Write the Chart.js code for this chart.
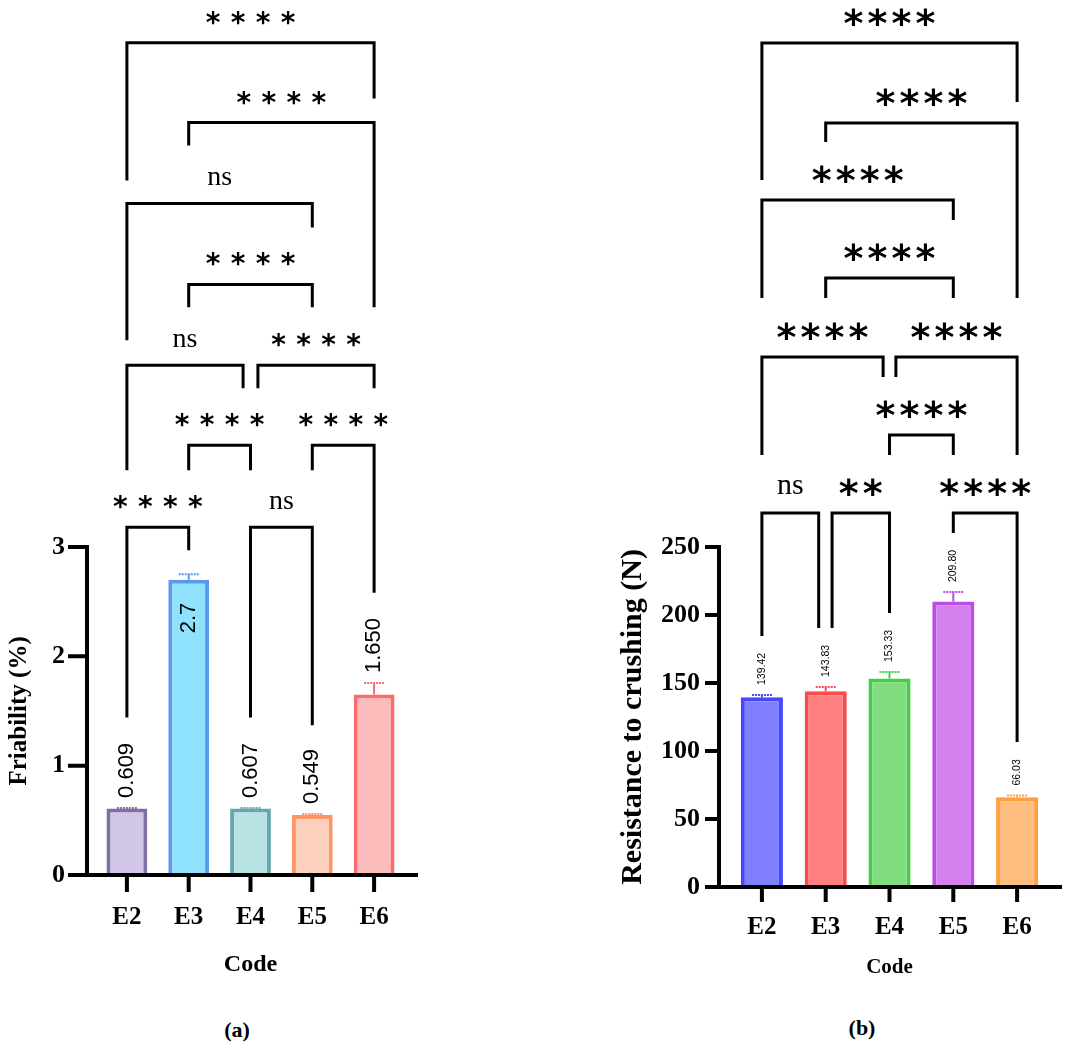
<!DOCTYPE html>
<html>
<head>
<meta charset="utf-8">
<script src="https://cdn.jsdelivr.net/npm/chart.js@4.4.1/dist/chart.umd.min.js"></script>
<style>
  body { margin: 0; background: #fff; width: 1068px; height: 1044px; position: relative; overflow: hidden; }
  canvas { position: absolute; top: 0; }
  #chartA { left: 0; }
  #chartB { left: 600px; }
  .cap { position: absolute; font: bold 22px "Liberation Serif", serif; transform: translate(-50%, -50%); }
</style>
</head>
<body>
<canvas id="chartA" width="440" height="1000"></canvas>
<canvas id="chartB" width="468" height="1000"></canvas>
<div class="cap" style="left:237px;top:1030px">(a)</div>
<div class="cap" style="left:862px;top:1028px">(b)</div>
<script>
const codes = ["E2", "E3", "E4", "E5", "E6"];

// (a) friability
const friability = [0.609, 2.7, 0.607, 0.549, 1.650];
const friabilitySd = [0.004, 0.05, 0.005, 0.008, 0.105];
const friabilityText = ["0.609", "2.7", "0.607", "0.549", "1.650"];
const friabilityTicks = [0, 1, 2, 3];
// comparisons: [from, to, bracket level, left leg end, right leg end, result]
const friabilityPairs = [
    [0, 4, 7.61, 6.35, 7.10, "****"],
    [1, 4, 6.88, 6.67, 5.19, "****"],
    [0, 3, 6.14, 4.89, 5.92, "ns"],
    [1, 3, 5.40, 5.19, 5.19, "****"],
    [0, 1.88, 4.66, 3.70, 4.45, "ns"],
    [2.12, 4, 4.66, 4.45, 4.45, "****"],
    [1, 2, 3.93, 3.70, 3.70, "****"],
    [3, 4, 3.93, 3.70, 2.58, "****"],
    [0, 1, 3.18, 1.44, 2.97, "****"],
    [2, 3, 3.18, 1.44, 1.37, "ns"],
];

// (b) resistance to crushing
const crushing = [139.42, 143.83, 153.33, 209.80, 66.03];
const crushingSd = [1.7, 3.2, 4.7, 7.0, 1.2];
const crushingText = ["139.42", "143.83", "153.33", "209.80", "66.03"];
const crushingTicks = [0, 50, 100, 150, 200, 250];
const crushingPairs = [
    [0, 4, 620.4, 519.7, 577.0, "****"],
    [1, 4, 561.6, 547.6, 433.0, "****"],
    [0, 3, 505.0, 433.0, 490.3, "****"],
    [1, 3, 447.7, 433.0, 433.0, "****"],
    [0, 1.9, 389.6, 317.6, 374.9, "****"],
    [2.1, 4, 389.6, 374.9, 317.6, "****"],
    [2, 3, 332.3, 317.6, 317.6, "****"],
    [0, 0.89, 274.9, 184.5, 190.4, "ns"],
    [1.1, 2, 274.9, 190.4, 201.4, "**"],
    [3, 4, 274.9, 260.2, 106.6, "****"],
];

const serif = '"Liberation Serif", "Times New Roman", serif';
const sans = '"Liberation Sans", Arial, sans-serif';

function centredText(ctx, text, x, y) {
    const m = ctx.measureText(text);
    ctx.textAlign = "center";
    ctx.textBaseline = "alphabetic";
    ctx.fillText(text, x, y + (m.actualBoundingBoxAscent - m.actualBoundingBoxDescent) / 2);
}

function drawMark(ctx, mark, x, y, p) {
    ctx.fillStyle = "#000";
    if (mark.startsWith("*")) {
        ctx.font = p.starFont;
        const n = mark.length;
        for (let i = 0; i < n; i++) {
            centredText(ctx, "*", x + (i - (n - 1) / 2) * p.starGap, y);
        }
    } else {
        ctx.font = p.nsFont;
        centredText(ctx, mark, x, y);
    }
}

function overlay(p) {
    return {
        id: "overlay",
        afterDatasetsDraw(chart) {
            const ctx = chart.ctx, xs = chart.scales.x, ys = chart.scales.y, area = chart.chartArea;
            const y0 = ys.getPixelForValue(0);
            const yTop = ys.getPixelForValue(p.ticks[p.ticks.length - 1]);
            const axisX = area.left - p.axisGap;
            ctx.save();

            // axes
            ctx.strokeStyle = "#000";
            ctx.lineWidth = 4;
            ctx.beginPath();
            ctx.moveTo(axisX, y0 + 2);
            ctx.lineTo(axisX, yTop - 2);
            ctx.moveTo(area.left - p.xOver[0], y0);
            ctx.lineTo(area.right + p.xOver[1], y0);
            p.ticks.forEach(v => {
                const y = ys.getPixelForValue(v);
                ctx.moveTo(axisX - p.yTickLen, y);
                ctx.lineTo(axisX, y);
            });
            codes.forEach((c, i) => {
                const x = xs.getPixelForValue(i);
                ctx.moveTo(x, y0);
                ctx.lineTo(x, y0 + p.xTickLen);
            });
            ctx.stroke();

            // error bars and value labels
            p.values.forEach((v, i) => {
                const x = xs.getPixelForValue(i);
                const yb = ys.getPixelForValue(v);
                const ye = ys.getPixelForValue(v + p.sd[i]);
                ctx.strokeStyle = p.border[i];
                ctx.lineWidth = 2;
                ctx.beginPath();
                ctx.moveTo(x, yb);
                ctx.lineTo(x, ye);
                ctx.stroke();
                ctx.setLineDash([2, 1]);
                ctx.beginPath();
                ctx.moveTo(x - p.capHalf, ye);
                ctx.lineTo(x + p.capHalf, ye);
                ctx.stroke();
                ctx.setLineDash([]);

                ctx.font = p.labelFont;
                ctx.fillStyle = "#000";
                const w = ctx.measureText(p.text[i]).width;
                let start = ye - p.labelGap;
                if (start - w < yTop) start = yb + p.insideGap + w;
                ctx.save();
                ctx.translate(x, start);
                ctx.rotate(-Math.PI / 2);
                ctx.textAlign = "left";
                ctx.textBaseline = "middle";
                ctx.fillText(p.text[i], 0, 0);
                ctx.restore();
            });

            // significance brackets
            ctx.strokeStyle = "#000";
            ctx.lineWidth = 3;
            ctx.lineJoin = "miter";
            p.pairs.forEach(([a, b, lvl, la, lb, mark]) => {
                const xa = xs.getPixelForValue(a), xb = xs.getPixelForValue(b);
                const y = ys.getPixelForValue(lvl);
                ctx.beginPath();
                ctx.moveTo(xa, ys.getPixelForValue(la));
                ctx.lineTo(xa, y);
                ctx.lineTo(xb, y);
                ctx.lineTo(xb, ys.getPixelForValue(lb));
                ctx.stroke();
                drawMark(ctx, mark, (xa + xb) / 2, y - p.markGap, p);
            });

            // y title, centred on the drawn axis
            ctx.save();
            ctx.translate(p.titleX, (y0 + yTop) / 2);
            ctx.rotate(-Math.PI / 2);
            ctx.font = p.titleFont;
            ctx.fillStyle = "#000";
            ctx.textAlign = "center";
            ctx.textBaseline = "middle";
            ctx.fillText(p.title, 0, 0);
            ctx.restore();

            ctx.restore();
        }
    };
}

function makeChart(id, p) {
    return new Chart(document.getElementById(id), {
        type: "bar",
        data: {
            labels: codes,
            datasets: [{
                data: p.values,
                backgroundColor: p.fill,
                borderColor: p.border,
                borderWidth: 4,
                barPercentage: 0.66,
                categoryPercentage: 1,
            }],
        },
        options: {
            responsive: false,
            animation: false,
            layout: { padding: { left: 0, right: p.rightPad, top: 0, bottom: 0 } },
            plugins: { legend: { display: false }, tooltip: { enabled: false } },
            scales: {
                x: {
                    offset: true,
                    grid: { display: false, drawTicks: false },
                    border: { display: false },
                    ticks: { color: "#000", padding: p.xPad, font: { family: serif, size: 25, weight: "bold" } },
                    title: {
                        display: true, text: "Code", color: "#000",
                        font: { family: serif, size: p.codeSize, weight: "bold" },
                        padding: { top: 0, bottom: p.codePad },
                    },
                    afterFit: s => { s.height = p.xHeight; },
                },
                y: {
                    min: 0,
                    max: p.max,
                    grid: { display: false, drawTicks: false },
                    border: { display: false },
                    ticks: { color: "#000", padding: p.yPad, font: { family: serif, size: 26, weight: "bold" } },
                    afterBuildTicks: s => { s.ticks = p.ticks.map(v => ({ value: v })); },
                    afterFit: s => {
                        s.width = p.yWidth;
                        s.paddingTop = 0;
                        s.paddingBottom = 0;
                    },
                },
            },
        },
        plugins: [overlay(p)],
    });
}

makeChart("chartA", {
    values: friability, sd: friabilitySd, text: friabilityText, ticks: friabilityTicks, pairs: friabilityPairs,
    fill: ["#d1c6e7", "#8fe2fd", "#b8e2e4", "#fcd0bc", "#fdbcbc"],
    border: ["#7f6fa3", "#5b96ef", "#64a7ad", "#fd9665", "#fd6a6b"],
    max: 8, yWidth: 96, xHeight: 125, rightPad: 35, yPad: 31, xPad: 28,
    codeSize: 24, codePad: 21,
    axisGap: 9, xOver: [28, 13], yTickLen: 19, xTickLen: 17,
    capHalf: 10, labelFont: "22px " + sans, labelGap: 10, insideGap: 23,
    starFont: "bold 28px " + "DejaVu Sans", starGap: 25, nsFont: "28px " + serif, markGap: 25,
    title: "Friability (%)", titleFont: "bold 25px " + serif, titleX: 20,
});

makeChart("chartB", {
    values: crushing, sd: crushingSd, text: crushingText, ticks: crushingTicks, pairs: crushingPairs,
    fill: ["#8080fe", "#fe8080", "#80de80", "#d580ef", "#febf80"],
    border: ["#4848fb", "#fe4a4a", "#46cd46", "#bb4cea", "#fea040"],
    max: 652, yWidth: 130, xHeight: 113, rightPad: 19, yPad: 30, xPad: 26,
    codeSize: 21, codePad: 20,
    axisGap: 11, xOver: [25, 13], yTickLen: 14, xTickLen: 15,
    capHalf: 10, labelFont: "10.5px " + sans, labelGap: 10, insideGap: 10,
    starFont: "bold 38px " + "DejaVu Sans", starGap: 24, nsFont: "30px " + serif, markGap: 26,
    title: "Resistance to crushing (N)", titleFont: "bold 30px " + serif, titleX: 33,
});
</script>
</body>
</html>
